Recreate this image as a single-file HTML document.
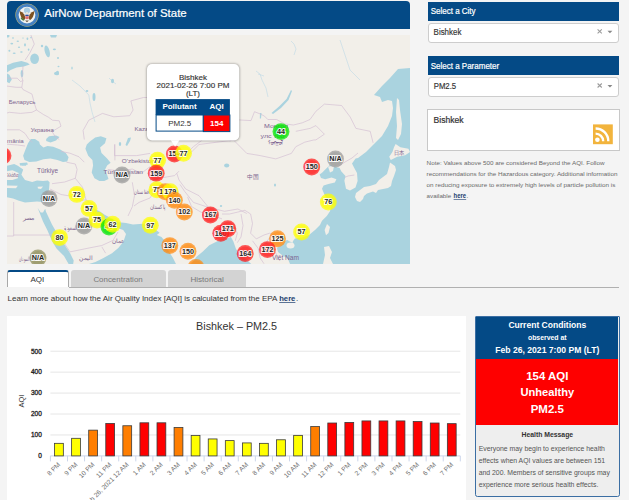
<!DOCTYPE html>
<html><head><meta charset="utf-8">
<style>
*{box-sizing:border-box;margin:0;padding:0}
html,body{width:629px;height:500px;overflow:hidden;background:#f4f4f4;font-family:"Liberation Sans",sans-serif;position:relative}
.abs{position:absolute}
svg text{font-family:"Liberation Sans",sans-serif}
</style></head><body>
<div class="abs" style="left:7px;top:1px;width:403px;height:27.5px;background:#044a86;border-radius:4px 4px 0 0"></div>
<div id="map" class="abs" style="left:7px;top:35px;width:403px;height:228.5px;background:#f2efe9;overflow:hidden"><svg class="abs" style="left:0;top:0" width="403" height="229" viewBox="7 35 403 229">
<rect x="7" y="35" width="403" height="229" fill="#f2efe9"/>
<polygon points="7.0,65.2 13.0,62.8 21.4,61.0 27.4,62.8 29.8,64.6 23.8,66.4 16.6,67.6 10.6,70.0 7.0,72.4" fill="#aad3df" />
<polygon points="7.0,73.6 9.4,74.8 11.8,79.6 9.4,83.2 7.0,82.0" fill="#aad3df" />
<ellipse cx="34.6" cy="58.8" rx="4.4" ry="5.2" fill="#aad3df"/>
<ellipse cx="47.2" cy="51.4" rx="2.4" ry="6" transform="rotate(-15 47.2 51.4)" fill="#aad3df"/>
<polygon points="50.0,35.0 57.0,35.0 56.0,37.6 51.0,37.6" fill="#aad3df" />
<ellipse cx="22" cy="73.6" rx="1.3" ry="3.6" fill="#aad3df"/>
<ellipse cx="7.5" cy="36" rx="2" ry="1.5" fill="#aad3df"/>
<ellipse cx="11.8" cy="43.6" rx="1.4" ry="0.9" fill="#aad3df"/>
<ellipse cx="17.8" cy="41.2" rx="1.2" ry="0.8" fill="#aad3df"/>
<ellipse cx="25" cy="44.8" rx="1" ry="1.6" fill="#aad3df"/>
<ellipse cx="27.4" cy="38.8" rx="0.9" ry="1.3" fill="#aad3df"/>
<ellipse cx="21.4" cy="52" rx="1.3" ry="0.8" fill="#aad3df"/>
<ellipse cx="14.2" cy="53.2" rx="1.5" ry="0.8" fill="#aad3df"/>
<ellipse cx="9.4" cy="50.8" rx="1" ry="1" fill="#aad3df"/>
<ellipse cx="28.6" cy="49.6" rx="0.8" ry="1.2" fill="#aad3df"/>
<ellipse cx="19" cy="47.2" rx="1.1" ry="0.7" fill="#aad3df"/>
<ellipse cx="31" cy="37.6" rx="0.8" ry="0.8" fill="#aad3df"/>
<ellipse cx="13" cy="38" rx="1" ry="0.7" fill="#aad3df"/>
<ellipse cx="23" cy="38" rx="0.8" ry="0.6" fill="#aad3df"/>
<ellipse cx="42" cy="46" rx="1.2" ry="1.2" fill="#aad3df"/>
<ellipse cx="54.4" cy="49.3" rx="1.6" ry="0.9" fill="#aad3df"/>
<ellipse cx="58" cy="58" rx="1" ry="1" fill="#aad3df"/>
<ellipse cx="58.5" cy="66.5" rx="1" ry="0.7" fill="#aad3df"/>
<ellipse cx="57.5" cy="73" rx="1.5" ry="2.2" fill="#aad3df"/>
<ellipse cx="72" cy="68" rx="0.7" ry="1.5" fill="#aad3df"/>
<ellipse cx="87" cy="91" rx="1.3" ry="1" fill="#aad3df"/>
<polygon points="28.0,143.2 25.2,150.2 23.1,155.8 24.5,160.0 29.4,162.1 36.4,161.4 43.4,159.3 50.4,158.6 57.4,160.0 63.0,162.1 67.2,161.4 68.6,157.2 65.8,153.0 60.2,149.5 53.2,146.7 47.6,146.0 43.4,147.4 39.9,144.6 39.2,141.8 35.0,139.0 30.8,139.0" fill="#aad3df" />
<polygon points="46.2,139.0 49.0,136.2 56.0,135.5 59.5,136.9 56.0,140.4 50.4,142.5 46.2,141.1" fill="#aad3df" />
<polygon points="21.0,163.0 27.0,162.5 28.0,164.5 22.0,165.5" fill="#aad3df" />
<polygon points="7.0,165.8 14.2,164.0 17.8,165.8 23.2,169.4 21.4,174.7 25.0,180.1 32.2,182.0 37.0,180.4 43.0,181.0 47.8,180.4 49.6,182.2 49.0,190.0 45.4,196.0 43.0,202.0 37.0,201.4 31.0,202.0 25.0,202.6 19.0,200.8 13.0,198.4 7.0,197.2" fill="#aad3df" />
<polygon points="19.6,163.0 26.8,163.5 26.0,165.8 20.0,165.5" fill="#aad3df" />
<polygon points="37.7,208.0 40.7,212.5 43.0,212.5 45.2,208.7 46.0,211.7 52.0,224.5 58.0,235.0 64.0,244.0 70.0,253.0 73.7,260.5 73.0,265.0 69.2,265.0 64.0,256.0 56.5,248.5 52.0,241.0 47.5,230.5 43.0,221.5" fill="#aad3df" />
<polygon points="89.6,141.8 95.2,137.6 100.8,136.2 106.4,138.3 105.0,143.2 100.1,147.4 101.5,153.0 107.1,158.6 110.6,162.8 107.1,165.6 105.0,169.8 107.1,174.7 108.5,178.9 104.3,181.0 99.4,181.0 94.5,178.2 91.7,172.6 93.1,165.6 92.4,160.0 88.2,155.8 85.4,148.8 86.8,144.6" fill="#aad3df" />
<polygon points="128.0,138.0 131.0,137.5 130.0,141.0 127.0,146.0 125.5,145.0" fill="#aad3df" />
<ellipse cx="120" cy="144" rx="1.2" ry="2" fill="#aad3df"/>
<polygon points="95.0,209.0 100.0,211.5 105.0,215.0 111.0,218.0 119.0,222.3 126.0,223.0 133.0,224.4 142.8,223.7 145.6,224.4 154.0,228.6 159.6,232.8 156.8,234.9 161.5,237.0 165.5,242.0 168.0,250.0 173.0,258.0 176.0,264.0 89.0,264.0 95.4,262.0 103.0,258.3 112.0,253.2 118.3,248.0 123.4,241.7 126.0,234.0 123.2,230.0 119.0,228.6 112.0,226.0 104.0,223.0 97.0,218.0 92.0,213.0" fill="#aad3df" />
<polygon points="191.0,264.0 196.5,256.7 202.9,251.6 209.3,245.3 214.3,242.7 219.4,240.2 230.9,237.0 233.4,241.5 236.0,249.0 239.8,254.2 247.4,260.5 251.2,264.0" fill="#aad3df" />
<polygon points="189.0,128.0 195.0,125.0 204.0,124.0 206.0,125.5 197.0,127.5 190.0,130.0" fill="#aad3df" />
<polygon points="291.0,90.0 292.0,91.0 288.5,100.0 281.0,108.0 273.0,114.0 271.5,113.0 279.0,106.5 286.5,99.0" fill="#aad3df" />
<polygon points="260.0,113.0 261.5,113.0 261.0,118.6 259.8,118.6" fill="#aad3df" />
<polygon points="410.0,68.0 398.0,69.0 390.0,78.0 382.0,86.0 374.0,95.0 380.0,97.0 382.0,102.0 388.0,100.0 392.0,101.0 393.0,108.0 392.0,116.0 388.0,126.0 382.0,136.0 374.0,144.0 366.0,152.0 358.0,158.0 355.6,158.4 352.0,163.5 354.0,167.5 357.0,173.0 357.6,181.0 355.5,187.5 350.0,190.6 346.0,188.8 344.4,180.8 345.5,176.0 341.2,171.2 339.6,168.0 334.8,166.4 330.0,164.8 326.8,168.0 322.0,172.8 319.6,174.4 321.0,178.0 325.2,179.2 331.6,177.6 336.4,179.2 334.8,182.4 328.4,184.0 323.6,185.6 322.0,188.8 324.4,194.4 328.0,200.0 331.0,206.0 330.0,211.2 326.8,216.0 322.0,220.8 320.0,225.0 315.0,230.0 309.0,235.0 302.0,237.5 295.0,238.5 293.0,241.0 292.5,243.0 290.0,241.5 287.0,240.0 284.0,242.0 281.0,245.0 277.0,248.0 278.0,252.0 282.0,255.0 288.0,259.0 290.0,264.0 410.0,264.0" fill="#aad3df" />
<polygon points="328.0,166.6 334.0,166.0 333.0,171.0 330.0,172.6" fill="#f2efe9" />
<polygon points="397.0,98.0 399.0,100.0 400.0,110.0 402.0,124.0 401.0,134.0 398.0,140.0 396.0,138.0 397.0,126.0 396.0,112.0" fill="#f2efe9" />
<polygon points="395.6,144.0 400.4,147.2 408.4,148.8 410.0,152.0 405.2,155.2 397.2,156.8 390.8,160.0 389.2,156.8 392.4,152.0 394.0,147.2" fill="#f2efe9" />
<polygon points="390.0,162.5 395.0,166.0 396.0,170.0 394.0,176.0 392.0,181.0 391.0,186.0 388.0,188.0 383.0,189.0 378.0,190.0 376.0,193.0 373.0,191.5 367.0,193.5 364.0,196.0 363.0,199.0 360.0,202.0 357.0,201.0 355.0,197.0 356.0,193.0 360.0,190.0 364.0,187.0 370.0,186.0 376.0,184.0 379.0,180.0 383.0,177.0 387.0,174.0 389.0,167.0" fill="#f2efe9" />
<polygon points="327.0,224.0 330.0,227.0 328.5,233.0 326.0,235.2 324.6,230.0" fill="#f2efe9" />
<polygon points="324.0,247.0 329.0,246.0 332.0,252.0 330.0,258.0 333.0,264.0 323.0,264.0 325.0,255.0" fill="#f2efe9" />
<ellipse cx="290.5" cy="245.6" rx="4" ry="3" fill="#f2efe9"/>
<polygon points="7.0,171.2 12.4,170.3 18.7,173.0 17.8,178.3 12.4,180.1 7.0,180.1" fill="#f2efe9" />
<polygon points="7.0,185.5 17.8,185.8 16.0,188.2 7.0,188.0" fill="#f2efe9" />
<polygon points="37.6,186.8 43.0,186.4 41.0,189.1 38.0,188.6" fill="#f2efe9" />
<polyline points="30.9,35.0 34.3,44.1 29.7,53.2 25.2,60.0" fill="none" stroke="#d2bcd2" stroke-width="0.65"/>
<polyline points="22.9,66.0 22.9,69.1 21.8,77.0 22.9,80.5 20.6,81.6 17.2,78.2 7.0,78.2" fill="none" stroke="#d2bcd2" stroke-width="0.65"/>
<polyline points="22.9,80.5 21.8,87.3 16.1,87.3 7.0,86.1" fill="none" stroke="#d2bcd2" stroke-width="0.65"/>
<polyline points="21.8,87.3 22.9,89.5 32.0,94.1 34.3,103.2 36.5,110.0 32.0,112.3 20.6,113.4 9.3,112.3 7.0,113.0" fill="none" stroke="#d2bcd2" stroke-width="0.65"/>
<polyline points="36.5,110.0 43.4,114.5 48.4,117.2 52.5,120.2 59.2,120.8 61.0,126.2 52.0,131.6 55.6,137.0 59.3,139.5" fill="none" stroke="#d2bcd2" stroke-width="0.65"/>
<polyline points="7.0,129.8 19.6,129.8 25.0,133.4 28.6,138.8 32.2,142.4" fill="none" stroke="#d2bcd2" stroke-width="0.65"/>
<polyline points="7.0,144.2 17.8,145.0 25.0,146.0" fill="none" stroke="#d2bcd2" stroke-width="0.65"/>
<polyline points="61.0,151.4 70.0,153.2 79.0,156.8 84.3,162.2" fill="none" stroke="#d2bcd2" stroke-width="0.65"/>
<polyline points="66.4,162.2 75.3,164.0 77.1,169.4 75.3,178.3 64.6,182.0 52.0,183.7" fill="none" stroke="#d2bcd2" stroke-width="0.65"/>
<polyline points="75.3,178.3 82.5,187.3 86.1,200.0" fill="none" stroke="#d2bcd2" stroke-width="0.65"/>
<polyline points="50.2,189.1 61.0,194.5 70.0,196.0 80.0,200.0 86.1,200.0 95.0,206.0" fill="none" stroke="#d2bcd2" stroke-width="0.65"/>
<polyline points="84.3,139.5 83.1,130.5 88.8,120.2 102.5,113.4 113.8,116.8 129.7,115.7 133.1,110.0 130.9,100.9 143.4,97.5 150.0,97.5" fill="none" stroke="#d2bcd2" stroke-width="0.65"/>
<polyline points="114.9,144.2 114.9,160.4" fill="none" stroke="#d2bcd2" stroke-width="0.65"/>
<polyline points="107.7,169.4 120.0,171.2 132.3,169.0 141.2,173.4 150.0,166.7" fill="none" stroke="#d2bcd2" stroke-width="0.65"/>
<polyline points="114.5,144.5 114.5,155.6 136.7,155.6 150.0,153.4" fill="none" stroke="#d2bcd2" stroke-width="0.65"/>
<polyline points="183.5,157.8 192.4,151.1 199.0,144.5 217.0,142.2 234.7,140.0" fill="none" stroke="#d2bcd2" stroke-width="0.65"/>
<polyline points="150.0,180.0 161.2,177.9 174.6,175.6 179.0,171.2" fill="none" stroke="#d2bcd2" stroke-width="0.65"/>
<polyline points="176.8,173.4 179.0,180.0 185.7,189.0 199.0,195.7 208.0,206.8" fill="none" stroke="#d2bcd2" stroke-width="0.65"/>
<polyline points="150.0,184.5 154.5,191.2 150.0,198.0 139.0,202.4 134.0,206.0" fill="none" stroke="#d2bcd2" stroke-width="0.65"/>
<polyline points="132.3,182.3 134.5,195.7 132.3,206.8 128.0,216.0" fill="none" stroke="#d2bcd2" stroke-width="0.65"/>
<polyline points="13.7,202.0 13.7,236.0 7.0,236.0" fill="none" stroke="#d2bcd2" stroke-width="0.65"/>
<polyline points="13.7,235.0 52.0,235.0" fill="none" stroke="#d2bcd2" stroke-width="0.65"/>
<polyline points="52.0,235.0 62.0,240.0 70.0,251.9 89.0,248.0 101.8,245.5 113.0,240.4 118.0,232.0" fill="none" stroke="#d2bcd2" stroke-width="0.65"/>
<polyline points="101.8,246.8 105.6,253.2" fill="none" stroke="#d2bcd2" stroke-width="0.65"/>
<polyline points="233.5,140.0 246.8,153.4 260.2,155.6 275.8,158.9 291.4,153.4 295.8,146.7 304.7,142.2 313.6,140.0 315.9,139.9 324.4,134.2 315.9,125.6 310.1,128.4 295.8,131.3" fill="none" stroke="#d2bcd2" stroke-width="0.65"/>
<polyline points="202.3,140.0 193.4,146.7 184.5,155.6" fill="none" stroke="#d2bcd2" stroke-width="0.65"/>
<polyline points="180.0,184.5 184.5,191.2 193.4,202.4 206.7,206.8 224.5,211.3 237.9,209.0 246.8,213.5" fill="none" stroke="#d2bcd2" stroke-width="0.65"/>
<polyline points="187.6,196.9 191.5,206.5 201.0,212.2 214.4,216.0 222.0,218.9" fill="none" stroke="#d2bcd2" stroke-width="0.65"/>
<polyline points="222.0,214.0 229.6,214.0 237.3,212.2 244.9,210.3 250.6,214.0 252.5,223.6 250.6,233.2 256.3,238.9 264.0,235.0 269.7,233.2 276.0,236.0 285.0,238.0" fill="none" stroke="#d2bcd2" stroke-width="0.65"/>
<polyline points="233.4,223.6 237.3,233.2 235.3,240.8" fill="none" stroke="#d2bcd2" stroke-width="0.65"/>
<polyline points="241.0,214.0 243.0,225.5 241.0,237.0 237.3,242.7" fill="none" stroke="#d2bcd2" stroke-width="0.65"/>
<polyline points="252.5,240.8 258.2,248.4 260.2,258.0 264.0,263.7" fill="none" stroke="#d2bcd2" stroke-width="0.65"/>
<polyline points="271.6,235.0 265.9,242.7 275.4,252.3 279.2,259.9" fill="none" stroke="#d2bcd2" stroke-width="0.65"/>
<polyline points="238.6,119.9 251.0,120.6 254.5,111.7 260.0,113.9 264.5,116.1 267.8,119.5 276.7,119.5 284.5,123.9 293.4,125.0 302.3,122.8 310.0,119.5 315.9,111.3 324.4,104.1 341.6,105.5 350.2,117.0 355.9,128.4 370.2,131.3 373.1,142.8" fill="none" stroke="#d2bcd2" stroke-width="0.65"/>
<polyline points="230.0,141.5 238.6,119.9" fill="none" stroke="#d2bcd2" stroke-width="0.65"/>
<polyline points="338.8,166.0 345.0,162.0 352.0,158.0 358.0,153.0" fill="none" stroke="#d2bcd2" stroke-width="0.65"/>
<polyline points="344.8,177.4 348.0,176.0 354.4,175.0" fill="none" stroke="#d2bcd2" stroke-width="0.65"/>
<polyline points="72.0,80.0 80.0,86.0 88.8,95.0 90.0,103.0 92.0,112.0 95.0,122.0" fill="none" stroke="#c5dde6" stroke-width="0.7"/>
<polyline points="109.0,78.0 112.0,81.0 116.0,84.0" fill="none" stroke="#c5dde6" stroke-width="0.7"/>
<polyline points="256.0,71.0 260.0,74.0 262.0,80.0 266.0,88.0 268.0,97.0" fill="none" stroke="#c5dde6" stroke-width="0.7"/>
<polyline points="258.0,74.0 264.0,76.0" fill="none" stroke="#c5dde6" stroke-width="0.7"/>
<polyline points="291.0,41.0 294.0,44.0 296.0,49.0 294.0,55.0" fill="none" stroke="#c5dde6" stroke-width="0.7"/>
<polyline points="340.0,40.0 345.0,55.0 350.0,70.0 360.0,80.0" fill="none" stroke="#c5dde6" stroke-width="0.7"/>
<ellipse cx="56.5" cy="73.5" rx="2.5" ry="1.8" fill="#aad3df"/>
<ellipse cx="94" cy="97" rx="1.5" ry="4" fill="#aad3df"/>
<ellipse cx="112.5" cy="81" rx="1.5" ry="2.2" fill="#aad3df"/>
<ellipse cx="226.7" cy="165.6" rx="2.6" ry="2" fill="#aad3df"/>
<ellipse cx="221" cy="206" rx="1.2" ry="1" fill="#aad3df"/>
<ellipse cx="275" cy="185" rx="1" ry="1.5" fill="#aad3df"/>
<text x="8.7" y="103.5" font-size="6.2" fill="#7d6590" textLength="26.8" lengthAdjust="spacingAndGlyphs">Беларусь</text>
<text x="30.8" y="131.8" font-size="6.2" fill="#7d6590" textLength="23" lengthAdjust="spacingAndGlyphs">Украина</text>
<text x="7" y="142.5" font-size="6.2" fill="#7d6590" textLength="16.8" lengthAdjust="spacingAndGlyphs">mânia</text>
<text x="37" y="173" font-size="6.4" fill="#7d6590" textLength="21" lengthAdjust="spacingAndGlyphs">Türkiye</text>
<text x="7" y="176.5" font-size="6.2" fill="#7d6590" textLength="11.4" lengthAdjust="spacingAndGlyphs">λλάδα</text>
<text x="22.7" y="219.5" font-size="6.2" fill="#7d6590" textLength="12" lengthAdjust="spacingAndGlyphs">مصر</text>
<text x="19" y="261" font-size="6.2" fill="#7d6590" textLength="10.5" lengthAdjust="spacingAndGlyphs">السودان</text>
<text x="79" y="260" font-size="6.2" fill="#7d6590" textLength="14" lengthAdjust="spacingAndGlyphs">اليمن</text>
<text x="112" y="242.5" font-size="6.2" fill="#7d6590" textLength="12.6" lengthAdjust="spacingAndGlyphs">عمان</text>
<text x="63.6" y="229.5" font-size="6" fill="#7d6590" textLength="14" lengthAdjust="spacingAndGlyphs">السعودية</text>
<text x="103.6" y="174" font-size="6.2" fill="#7d6590" textLength="39.4" lengthAdjust="spacingAndGlyphs">Türkmenistan</text>
<text x="121.8" y="163.3" font-size="6.2" fill="#7d6590" textLength="33" lengthAdjust="spacingAndGlyphs">O'zbekiston</text>
<text x="134.4" y="131.3" font-size="6.2" fill="#7d6590" textLength="32" lengthAdjust="spacingAndGlyphs">Kazakhstan</text>
<text x="134" y="194" font-size="6" fill="#7d6590" textLength="16" lengthAdjust="spacingAndGlyphs">افغانستان</text>
<text x="150" y="208.5" font-size="6" fill="#7d6590" textLength="16" lengthAdjust="spacingAndGlyphs">پاکستان</text>
<text x="247" y="179" font-size="6.2" fill="#7d6590" textLength="11.7" lengthAdjust="spacingAndGlyphs">中国</text>
<text x="264" y="128.2" font-size="6.2" fill="#7d6590" textLength="24" lengthAdjust="spacingAndGlyphs">Монгол</text>
<text x="260.5" y="137.7" font-size="6.2" fill="#7d6590" textLength="24" lengthAdjust="spacingAndGlyphs">улс тоо</text>
<text x="268" y="145" font-size="5.5" fill="#7d6590" textLength="15" lengthAdjust="spacingAndGlyphs">ᠮᠤᠩᠭᠤᠯ</text>
<text x="394" y="155.2" font-size="6.2" fill="#7d6590" textLength="10.4" lengthAdjust="spacingAndGlyphs">日本</text>
<text x="272" y="259.5" font-size="6.4" fill="#7d6590" textLength="27" lengthAdjust="spacingAndGlyphs">Việt Nam</text>
<circle cx="3" cy="155.7" r="8.45" fill="#ff1a1a" fill-opacity="0.72"/><circle cx="3" cy="155.7" r="7" fill="#ff1a1a" fill-opacity="0.4"/>
<circle cx="122" cy="175" r="8.45" fill="#9a9a9a" fill-opacity="0.72"/><circle cx="122" cy="175" r="7" fill="#9a9a9a" fill-opacity="0.4"/>
<text x="122" y="177.4" text-anchor="middle" font-size="7.2" font-weight="bold" fill="#262626" stroke="#fff" stroke-width="1.9" stroke-opacity="0.9" paint-order="stroke">N/A</text>
<circle cx="76.8" cy="194.4" r="8.45" fill="#ffff00" fill-opacity="0.72"/><circle cx="76.8" cy="194.4" r="7" fill="#ffff00" fill-opacity="0.4"/>
<text x="76.8" y="196.8" text-anchor="middle" font-size="7.2" font-weight="bold" fill="#262626" stroke="#fff" stroke-width="1.9" stroke-opacity="0.9" paint-order="stroke">72</text>
<circle cx="49" cy="198.6" r="8.45" fill="#9a9a9a" fill-opacity="0.72"/><circle cx="49" cy="198.6" r="7" fill="#9a9a9a" fill-opacity="0.4"/>
<text x="49" y="201.0" text-anchor="middle" font-size="7.2" font-weight="bold" fill="#262626" stroke="#fff" stroke-width="1.9" stroke-opacity="0.9" paint-order="stroke">N/A</text>
<circle cx="89" cy="208.4" r="8.45" fill="#ffff00" fill-opacity="0.72"/><circle cx="89" cy="208.4" r="7" fill="#ffff00" fill-opacity="0.4"/>
<text x="89" y="210.8" text-anchor="middle" font-size="7.2" font-weight="bold" fill="#262626" stroke="#fff" stroke-width="1.9" stroke-opacity="0.9" paint-order="stroke">57</text>
<circle cx="84" cy="226" r="8.45" fill="#9a9a9a" fill-opacity="0.72"/><circle cx="84" cy="226" r="7" fill="#9a9a9a" fill-opacity="0.4"/>
<text x="84" y="228.4" text-anchor="middle" font-size="7.2" font-weight="bold" fill="#262626" stroke="#fff" stroke-width="1.9" stroke-opacity="0.9" paint-order="stroke">N/A</text>
<circle cx="97" cy="220" r="8.45" fill="#ffff00" fill-opacity="0.72"/><circle cx="97" cy="220" r="7" fill="#ffff00" fill-opacity="0.4"/>
<text x="97" y="222.4" text-anchor="middle" font-size="7.2" font-weight="bold" fill="#262626" stroke="#fff" stroke-width="1.9" stroke-opacity="0.9" paint-order="stroke">75</text>
<circle cx="109" cy="227" r="8.45" fill="#00e400" fill-opacity="0.72"/><circle cx="109" cy="227" r="7" fill="#00e400" fill-opacity="0.4"/>
<text x="109" y="229.4" text-anchor="middle" font-size="7.2" font-weight="bold" fill="#262626" stroke="#fff" stroke-width="1.9" stroke-opacity="0.9" paint-order="stroke">40</text>
<circle cx="112.6" cy="224.2" r="8.45" fill="#ffff00" fill-opacity="0.72"/><circle cx="112.6" cy="224.2" r="7" fill="#ffff00" fill-opacity="0.4"/>
<text x="112.6" y="226.6" text-anchor="middle" font-size="7.2" font-weight="bold" fill="#262626" stroke="#fff" stroke-width="1.9" stroke-opacity="0.9" paint-order="stroke">62</text>
<circle cx="59.6" cy="237.6" r="8.45" fill="#ffff00" fill-opacity="0.72"/><circle cx="59.6" cy="237.6" r="7" fill="#ffff00" fill-opacity="0.4"/>
<text x="59.6" y="240.0" text-anchor="middle" font-size="7.2" font-weight="bold" fill="#262626" stroke="#fff" stroke-width="1.9" stroke-opacity="0.9" paint-order="stroke">80</text>
<circle cx="38" cy="258" r="8.45" fill="#8e8e5a" fill-opacity="0.72"/><circle cx="38" cy="258" r="7" fill="#8e8e5a" fill-opacity="0.4"/>
<text x="38" y="260.4" text-anchor="middle" font-size="7.2" font-weight="bold" fill="#262626" stroke="#fff" stroke-width="1.9" stroke-opacity="0.9" paint-order="stroke">N/A</text>
<circle cx="174.4" cy="154" r="8.45" fill="#ff1a1a" fill-opacity="0.72"/><circle cx="174.4" cy="154" r="7" fill="#ff1a1a" fill-opacity="0.4"/>
<text x="174.4" y="156.4" text-anchor="middle" font-size="7.2" font-weight="bold" fill="#262626" stroke="#fff" stroke-width="1.9" stroke-opacity="0.9" paint-order="stroke">154</text>
<circle cx="183.5" cy="153.3" r="8.45" fill="#ffff00" fill-opacity="0.72"/><circle cx="183.5" cy="153.3" r="7" fill="#ffff00" fill-opacity="0.4"/>
<text x="183.5" y="155.7" text-anchor="middle" font-size="7.2" font-weight="bold" fill="#262626" stroke="#fff" stroke-width="1.9" stroke-opacity="0.9" paint-order="stroke">77</text>
<circle cx="157.6" cy="160.3" r="8.45" fill="#ffff00" fill-opacity="0.72"/><circle cx="157.6" cy="160.3" r="7" fill="#ffff00" fill-opacity="0.4"/>
<text x="157.6" y="162.7" text-anchor="middle" font-size="7.2" font-weight="bold" fill="#262626" stroke="#fff" stroke-width="1.9" stroke-opacity="0.9" paint-order="stroke">77</text>
<circle cx="156.2" cy="173.2" r="8.45" fill="#ff1a1a" fill-opacity="0.72"/><circle cx="156.2" cy="173.2" r="7" fill="#ff1a1a" fill-opacity="0.4"/>
<text x="156.2" y="175.6" text-anchor="middle" font-size="7.2" font-weight="bold" fill="#262626" stroke="#fff" stroke-width="1.9" stroke-opacity="0.9" paint-order="stroke">159</text>
<circle cx="156.9" cy="189.7" r="8.45" fill="#ffff00" fill-opacity="0.72"/><circle cx="156.9" cy="189.7" r="7" fill="#ffff00" fill-opacity="0.4"/>
<text x="156.9" y="192.1" text-anchor="middle" font-size="7.2" font-weight="bold" fill="#262626" stroke="#fff" stroke-width="1.9" stroke-opacity="0.9" paint-order="stroke">75</text>
<circle cx="165.3" cy="191.8" r="8.45" fill="#ff8a10" fill-opacity="0.72"/><circle cx="165.3" cy="191.8" r="7" fill="#ff8a10" fill-opacity="0.4"/>
<text x="165.3" y="194.2" text-anchor="middle" font-size="7.2" font-weight="bold" fill="#262626" stroke="#fff" stroke-width="1.9" stroke-opacity="0.9" paint-order="stroke">173</text>
<circle cx="170.2" cy="191.8" r="8.45" fill="#ffff00" fill-opacity="0.72"/><circle cx="170.2" cy="191.8" r="7" fill="#ffff00" fill-opacity="0.4"/>
<text x="170.2" y="194.2" text-anchor="middle" font-size="7.2" font-weight="bold" fill="#262626" stroke="#fff" stroke-width="1.9" stroke-opacity="0.9" paint-order="stroke">179</text>
<circle cx="174.4" cy="200.2" r="8.45" fill="#ff8a10" fill-opacity="0.72"/><circle cx="174.4" cy="200.2" r="7" fill="#ff8a10" fill-opacity="0.4"/>
<text x="174.4" y="202.6" text-anchor="middle" font-size="7.2" font-weight="bold" fill="#262626" stroke="#fff" stroke-width="1.9" stroke-opacity="0.9" paint-order="stroke">140</text>
<circle cx="184.3" cy="212" r="8.45" fill="#ff8a10" fill-opacity="0.72"/><circle cx="184.3" cy="212" r="7" fill="#ff8a10" fill-opacity="0.4"/>
<text x="184.3" y="214.4" text-anchor="middle" font-size="7.2" font-weight="bold" fill="#262626" stroke="#fff" stroke-width="1.9" stroke-opacity="0.9" paint-order="stroke">102</text>
<circle cx="210.4" cy="215" r="8.45" fill="#ff1a1a" fill-opacity="0.72"/><circle cx="210.4" cy="215" r="7" fill="#ff1a1a" fill-opacity="0.4"/>
<text x="210.4" y="217.4" text-anchor="middle" font-size="7.2" font-weight="bold" fill="#262626" stroke="#fff" stroke-width="1.9" stroke-opacity="0.9" paint-order="stroke">167</text>
<circle cx="220.8" cy="233.2" r="8.45" fill="#ff1a1a" fill-opacity="0.72"/><circle cx="220.8" cy="233.2" r="7" fill="#ff1a1a" fill-opacity="0.4"/>
<text x="220.8" y="235.6" text-anchor="middle" font-size="7.2" font-weight="bold" fill="#262626" stroke="#fff" stroke-width="1.9" stroke-opacity="0.9" paint-order="stroke">160</text>
<circle cx="227.8" cy="228.8" r="8.45" fill="#ff1a1a" fill-opacity="0.72"/><circle cx="227.8" cy="228.8" r="7" fill="#ff1a1a" fill-opacity="0.4"/>
<text x="227.8" y="231.2" text-anchor="middle" font-size="7.2" font-weight="bold" fill="#262626" stroke="#fff" stroke-width="1.9" stroke-opacity="0.9" paint-order="stroke">171</text>
<circle cx="150.3" cy="225.3" r="8.45" fill="#ffff00" fill-opacity="0.72"/><circle cx="150.3" cy="225.3" r="7" fill="#ffff00" fill-opacity="0.4"/>
<text x="150.3" y="227.7" text-anchor="middle" font-size="7.2" font-weight="bold" fill="#262626" stroke="#fff" stroke-width="1.9" stroke-opacity="0.9" paint-order="stroke">97</text>
<circle cx="169.8" cy="245.6" r="8.45" fill="#ff8a10" fill-opacity="0.72"/><circle cx="169.8" cy="245.6" r="7" fill="#ff8a10" fill-opacity="0.4"/>
<text x="169.8" y="248.0" text-anchor="middle" font-size="7.2" font-weight="bold" fill="#262626" stroke="#fff" stroke-width="1.9" stroke-opacity="0.9" paint-order="stroke">137</text>
<circle cx="188" cy="251.2" r="8.45" fill="#ff8a10" fill-opacity="0.72"/><circle cx="188" cy="251.2" r="7" fill="#ff8a10" fill-opacity="0.4"/>
<text x="188" y="253.6" text-anchor="middle" font-size="7.2" font-weight="bold" fill="#262626" stroke="#fff" stroke-width="1.9" stroke-opacity="0.9" paint-order="stroke">150</text>
<circle cx="196" cy="267.5" r="8.45" fill="#ff8a10" fill-opacity="0.72"/><circle cx="196" cy="267.5" r="7" fill="#ff8a10" fill-opacity="0.4"/>
<text x="196" y="269.9" text-anchor="middle" font-size="7.2" font-weight="bold" fill="#262626" stroke="#fff" stroke-width="1.9" stroke-opacity="0.9" paint-order="stroke">1??</text>
<circle cx="245.2" cy="253.5" r="8.45" fill="#ff1a1a" fill-opacity="0.72"/><circle cx="245.2" cy="253.5" r="7" fill="#ff1a1a" fill-opacity="0.4"/>
<text x="245.2" y="255.9" text-anchor="middle" font-size="7.2" font-weight="bold" fill="#262626" stroke="#fff" stroke-width="1.9" stroke-opacity="0.9" paint-order="stroke">164</text>
<circle cx="281" cy="131.6" r="8.45" fill="#00e400" fill-opacity="0.72"/><circle cx="281" cy="131.6" r="7" fill="#00e400" fill-opacity="0.4"/>
<text x="281" y="134.0" text-anchor="middle" font-size="7.2" font-weight="bold" fill="#262626" stroke="#fff" stroke-width="1.9" stroke-opacity="0.9" paint-order="stroke">44</text>
<circle cx="311.7" cy="167" r="8.45" fill="#ff1a1a" fill-opacity="0.72"/><circle cx="311.7" cy="167" r="7" fill="#ff1a1a" fill-opacity="0.4"/>
<text x="311.7" y="169.4" text-anchor="middle" font-size="7.2" font-weight="bold" fill="#262626" stroke="#fff" stroke-width="1.9" stroke-opacity="0.9" paint-order="stroke">150</text>
<circle cx="335.5" cy="159" r="8.45" fill="#9a9a9a" fill-opacity="0.72"/><circle cx="335.5" cy="159" r="7" fill="#9a9a9a" fill-opacity="0.4"/>
<text x="335.5" y="161.4" text-anchor="middle" font-size="7.2" font-weight="bold" fill="#262626" stroke="#fff" stroke-width="1.9" stroke-opacity="0.9" paint-order="stroke">N/A</text>
<circle cx="328.3" cy="202" r="8.45" fill="#ffff00" fill-opacity="0.72"/><circle cx="328.3" cy="202" r="7" fill="#ffff00" fill-opacity="0.4"/>
<text x="328.3" y="204.4" text-anchor="middle" font-size="7.2" font-weight="bold" fill="#262626" stroke="#fff" stroke-width="1.9" stroke-opacity="0.9" paint-order="stroke">76</text>
<circle cx="301.6" cy="232" r="8.45" fill="#ffff00" fill-opacity="0.72"/><circle cx="301.6" cy="232" r="7" fill="#ffff00" fill-opacity="0.4"/>
<text x="301.6" y="234.4" text-anchor="middle" font-size="7.2" font-weight="bold" fill="#262626" stroke="#fff" stroke-width="1.9" stroke-opacity="0.9" paint-order="stroke">57</text>
<circle cx="277.5" cy="238.8" r="8.45" fill="#ff8a10" fill-opacity="0.72"/><circle cx="277.5" cy="238.8" r="7" fill="#ff8a10" fill-opacity="0.4"/>
<text x="277.5" y="241.2" text-anchor="middle" font-size="7.2" font-weight="bold" fill="#262626" stroke="#fff" stroke-width="1.9" stroke-opacity="0.9" paint-order="stroke">125</text>
<circle cx="267.4" cy="249.6" r="8.45" fill="#ff1a1a" fill-opacity="0.72"/><circle cx="267.4" cy="249.6" r="7" fill="#ff1a1a" fill-opacity="0.4"/>
<text x="267.4" y="252.0" text-anchor="middle" font-size="7.2" font-weight="bold" fill="#262626" stroke="#fff" stroke-width="1.9" stroke-opacity="0.9" paint-order="stroke">172</text>
<g>
<defs><filter id="sh" x="-20%" y="-20%" width="140%" height="140%"><feGaussianBlur stdDeviation="1.3"/></filter></defs>
<rect x="146.6" y="63.8" width="93" height="77.2" rx="5" fill="#000" fill-opacity="0.35" filter="url(#sh)"/>
<rect x="147" y="64.1" width="92.2" height="76.4" rx="5" fill="#fff"/>
<polygon points="170.8,140.3 179.4,140.3 175.1,146.8" fill="#fff"/>
<text x="193" y="79.6" text-anchor="middle" font-size="8" fill="#333" stroke="#333" stroke-width="0.15">Bishkek</text>
<text x="193" y="88.3" text-anchor="middle" font-size="8" fill="#333" stroke="#333" stroke-width="0.15">2021-02-26 7:00 PM</text>
<text x="193" y="96" text-anchor="middle" font-size="8" fill="#333" stroke="#333" stroke-width="0.15">(LT)</text>
<rect x="155.6" y="99.1" width="74.3" height="15.9" fill="#044a86"/>
<rect x="156.1" y="115" width="47.2" height="16.1" fill="#fff" stroke="#044a86" stroke-width="1"/>
<rect x="203.3" y="115" width="26.6" height="16.6" fill="#fe0000" stroke="#044a86" stroke-width="1"/>
<text x="179.5" y="109.3" text-anchor="middle" font-size="8" font-weight="bold" fill="#fff">Pollutant</text>
<text x="216.6" y="109.3" text-anchor="middle" font-size="8" font-weight="bold" fill="#fff">AQI</text>
<text x="179.7" y="125.5" text-anchor="middle" font-size="8" fill="#333">PM2.5</text>
<text x="216.8" y="125.5" text-anchor="middle" font-size="8" font-weight="bold" fill="#fff">154</text>
</g>
</svg></div>
<div class="abs" style="left:427.5px;top:1.5px;width:191.5px;height:19.8px;background:#044a86"></div>
<div class="abs" style="left:427.5px;top:22.5px;width:191.5px;height:20.8px;background:#fff;border:1px solid #cdcdcd;border-radius:3px"></div>
<div class="abs" style="left:427.5px;top:55.7px;width:191.5px;height:19.7px;background:#044a86"></div>
<div class="abs" style="left:427.5px;top:76.5px;width:191.5px;height:20.7px;background:#fff;border:1px solid #cdcdcd;border-radius:3px"></div>
<div class="abs" style="left:427.3px;top:109px;width:192.7px;height:41.6px;background:#fff;border:1px solid #c8c8c8"></div>
<div class="abs" style="left:7px;top:269.6px;width:62.2px;height:17.8px;background:#fff;border:1px solid #a8a8a8;border-top:2px solid #044a86;border-bottom:none;border-radius:3px 3px 0 0"></div>
<div class="abs" style="left:70.8px;top:269.6px;width:95.2px;height:17.6px;background:#d3d3d3;border-radius:3px 3px 0 0"></div>
<div class="abs" style="left:167.5px;top:269.6px;width:78.8px;height:17.6px;background:#d3d3d3;border-radius:3px 3px 0 0"></div>
<div class="abs" style="left:69.2px;top:286.7px;width:550.3px;height:1px;background:#b0b0b0"></div>
<div class="abs" style="left:7px;top:316px;width:459px;height:184px;background:#fff"></div>
<svg class="abs" style="left:0;top:0" width="629" height="500" viewBox="0 0 629 500">
<rect x="50.40" y="434.46" width="409.90" height="1" fill="#e6e6e6"/>
<rect x="50.40" y="413.52" width="409.90" height="1" fill="#e6e6e6"/>
<rect x="50.40" y="392.58" width="409.90" height="1" fill="#e6e6e6"/>
<rect x="50.40" y="371.64" width="409.90" height="1" fill="#e6e6e6"/>
<rect x="50.40" y="350.70" width="409.90" height="1" fill="#e6e6e6"/>
<rect x="50.40" y="455.40" width="409.90" height="1" fill="#ccd6eb"/>
<rect x="49.90" y="455.90" width="1" height="5.5" fill="#ccd6eb"/>
<rect x="66.98" y="455.90" width="1" height="5.5" fill="#ccd6eb"/>
<rect x="84.06" y="455.90" width="1" height="5.5" fill="#ccd6eb"/>
<rect x="101.14" y="455.90" width="1" height="5.5" fill="#ccd6eb"/>
<rect x="118.22" y="455.90" width="1" height="5.5" fill="#ccd6eb"/>
<rect x="135.30" y="455.90" width="1" height="5.5" fill="#ccd6eb"/>
<rect x="152.38" y="455.90" width="1" height="5.5" fill="#ccd6eb"/>
<rect x="169.45" y="455.90" width="1" height="5.5" fill="#ccd6eb"/>
<rect x="186.53" y="455.90" width="1" height="5.5" fill="#ccd6eb"/>
<rect x="203.61" y="455.90" width="1" height="5.5" fill="#ccd6eb"/>
<rect x="220.69" y="455.90" width="1" height="5.5" fill="#ccd6eb"/>
<rect x="237.77" y="455.90" width="1" height="5.5" fill="#ccd6eb"/>
<rect x="254.85" y="455.90" width="1" height="5.5" fill="#ccd6eb"/>
<rect x="271.93" y="455.90" width="1" height="5.5" fill="#ccd6eb"/>
<rect x="289.01" y="455.90" width="1" height="5.5" fill="#ccd6eb"/>
<rect x="306.09" y="455.90" width="1" height="5.5" fill="#ccd6eb"/>
<rect x="323.17" y="455.90" width="1" height="5.5" fill="#ccd6eb"/>
<rect x="340.25" y="455.90" width="1" height="5.5" fill="#ccd6eb"/>
<rect x="357.33" y="455.90" width="1" height="5.5" fill="#ccd6eb"/>
<rect x="374.40" y="455.90" width="1" height="5.5" fill="#ccd6eb"/>
<rect x="391.48" y="455.90" width="1" height="5.5" fill="#ccd6eb"/>
<rect x="408.56" y="455.90" width="1" height="5.5" fill="#ccd6eb"/>
<rect x="425.64" y="455.90" width="1" height="5.5" fill="#ccd6eb"/>
<rect x="442.72" y="455.90" width="1" height="5.5" fill="#ccd6eb"/>
<rect x="459.80" y="455.90" width="1" height="5.5" fill="#ccd6eb"/>
<text x="41.8" y="458.20" text-anchor="end" font-size="6.5" fill="#222" stroke="#222" stroke-width="0.3">0</text>
<text x="41.8" y="437.26" text-anchor="end" font-size="6.5" fill="#222" stroke="#222" stroke-width="0.3">100</text>
<text x="41.8" y="416.32" text-anchor="end" font-size="6.5" fill="#222" stroke="#222" stroke-width="0.3">200</text>
<text x="41.8" y="395.38" text-anchor="end" font-size="6.5" fill="#222" stroke="#222" stroke-width="0.3">300</text>
<text x="41.8" y="374.44" text-anchor="end" font-size="6.5" fill="#222" stroke="#222" stroke-width="0.3">400</text>
<text x="41.8" y="353.50" text-anchor="end" font-size="6.5" fill="#222" stroke="#222" stroke-width="0.3">500</text>
<rect x="54.54" y="443.34" width="8.80" height="12.56" fill="#ffff00" stroke="#3a3a3a" stroke-width="0.8"/>
<rect x="71.62" y="438.31" width="8.80" height="17.59" fill="#ffff00" stroke="#3a3a3a" stroke-width="0.8"/>
<rect x="88.70" y="430.14" width="8.80" height="25.76" fill="#ff7e00" stroke="#3a3a3a" stroke-width="0.8"/>
<rect x="105.78" y="423.44" width="8.80" height="32.46" fill="#ff0000" stroke="#3a3a3a" stroke-width="0.8"/>
<rect x="122.86" y="425.75" width="8.80" height="30.15" fill="#ff7e00" stroke="#3a3a3a" stroke-width="0.8"/>
<rect x="139.94" y="422.81" width="8.80" height="33.09" fill="#ff0000" stroke="#3a3a3a" stroke-width="0.8"/>
<rect x="157.01" y="422.81" width="8.80" height="33.09" fill="#ff0000" stroke="#3a3a3a" stroke-width="0.8"/>
<rect x="174.09" y="427.42" width="8.80" height="28.48" fill="#ff7e00" stroke="#3a3a3a" stroke-width="0.8"/>
<rect x="191.17" y="435.59" width="8.80" height="20.31" fill="#ffff00" stroke="#3a3a3a" stroke-width="0.8"/>
<rect x="208.25" y="438.94" width="8.80" height="16.96" fill="#ffff00" stroke="#3a3a3a" stroke-width="0.8"/>
<rect x="225.33" y="440.61" width="8.80" height="15.29" fill="#ffff00" stroke="#3a3a3a" stroke-width="0.8"/>
<rect x="242.41" y="442.92" width="8.80" height="12.98" fill="#ffff00" stroke="#3a3a3a" stroke-width="0.8"/>
<rect x="259.49" y="443.34" width="8.80" height="12.56" fill="#ffff00" stroke="#3a3a3a" stroke-width="0.8"/>
<rect x="276.57" y="439.78" width="8.80" height="16.12" fill="#ffff00" stroke="#3a3a3a" stroke-width="0.8"/>
<rect x="293.65" y="435.38" width="8.80" height="20.52" fill="#ffff00" stroke="#3a3a3a" stroke-width="0.8"/>
<rect x="310.73" y="426.58" width="8.80" height="29.32" fill="#ff7e00" stroke="#3a3a3a" stroke-width="0.8"/>
<rect x="327.81" y="423.02" width="8.80" height="32.88" fill="#ff0000" stroke="#3a3a3a" stroke-width="0.8"/>
<rect x="344.89" y="422.40" width="8.80" height="33.50" fill="#ff0000" stroke="#3a3a3a" stroke-width="0.8"/>
<rect x="361.96" y="420.93" width="8.80" height="34.97" fill="#ff0000" stroke="#3a3a3a" stroke-width="0.8"/>
<rect x="379.04" y="420.93" width="8.80" height="34.97" fill="#ff0000" stroke="#3a3a3a" stroke-width="0.8"/>
<rect x="396.12" y="420.93" width="8.80" height="34.97" fill="#ff0000" stroke="#3a3a3a" stroke-width="0.8"/>
<rect x="413.20" y="421.56" width="8.80" height="34.34" fill="#ff0000" stroke="#3a3a3a" stroke-width="0.8"/>
<rect x="430.28" y="423.02" width="8.80" height="32.88" fill="#ff0000" stroke="#3a3a3a" stroke-width="0.8"/>
<rect x="447.36" y="423.65" width="8.80" height="32.25" fill="#ff0000" stroke="#3a3a3a" stroke-width="0.8"/>
<text transform="translate(60.74,465.10) rotate(-45)" text-anchor="end" font-size="6.6" fill="#707070">8 PM</text>
<text transform="translate(77.82,465.10) rotate(-45)" text-anchor="end" font-size="6.6" fill="#707070">9 PM</text>
<text transform="translate(94.90,465.10) rotate(-45)" text-anchor="end" font-size="6.6" fill="#707070">10 PM</text>
<text transform="translate(111.98,465.10) rotate(-45)" text-anchor="end" font-size="6.6" fill="#707070">11 PM</text>
<text transform="translate(129.06,465.10) rotate(-45)" text-anchor="end" font-size="6.6" fill="#707070">Feb 26, 2021 12 AM</text>
<text transform="translate(146.14,465.10) rotate(-45)" text-anchor="end" font-size="6.6" fill="#707070">1 AM</text>
<text transform="translate(163.21,465.10) rotate(-45)" text-anchor="end" font-size="6.6" fill="#707070">2 AM</text>
<text transform="translate(180.29,465.10) rotate(-45)" text-anchor="end" font-size="6.6" fill="#707070">3 AM</text>
<text transform="translate(197.37,465.10) rotate(-45)" text-anchor="end" font-size="6.6" fill="#707070">4 AM</text>
<text transform="translate(214.45,465.10) rotate(-45)" text-anchor="end" font-size="6.6" fill="#707070">5 AM</text>
<text transform="translate(231.53,465.10) rotate(-45)" text-anchor="end" font-size="6.6" fill="#707070">6 AM</text>
<text transform="translate(248.61,465.10) rotate(-45)" text-anchor="end" font-size="6.6" fill="#707070">7 AM</text>
<text transform="translate(265.69,465.10) rotate(-45)" text-anchor="end" font-size="6.6" fill="#707070">8 AM</text>
<text transform="translate(282.77,465.10) rotate(-45)" text-anchor="end" font-size="6.6" fill="#707070">9 AM</text>
<text transform="translate(299.85,465.10) rotate(-45)" text-anchor="end" font-size="6.6" fill="#707070">10 AM</text>
<text transform="translate(316.93,465.10) rotate(-45)" text-anchor="end" font-size="6.6" fill="#707070">11 AM</text>
<text transform="translate(334.01,465.10) rotate(-45)" text-anchor="end" font-size="6.6" fill="#707070">12 PM</text>
<text transform="translate(351.09,465.10) rotate(-45)" text-anchor="end" font-size="6.6" fill="#707070">1 PM</text>
<text transform="translate(368.16,465.10) rotate(-45)" text-anchor="end" font-size="6.6" fill="#707070">2 PM</text>
<text transform="translate(385.24,465.10) rotate(-45)" text-anchor="end" font-size="6.6" fill="#707070">3 PM</text>
<text transform="translate(402.32,465.10) rotate(-45)" text-anchor="end" font-size="6.6" fill="#707070">4 PM</text>
<text transform="translate(419.40,465.10) rotate(-45)" text-anchor="end" font-size="6.6" fill="#707070">5 PM</text>
<text transform="translate(436.48,465.10) rotate(-45)" text-anchor="end" font-size="6.6" fill="#707070">6 PM</text>
<text transform="translate(453.56,465.10) rotate(-45)" text-anchor="end" font-size="6.6" fill="#707070">7 PM</text>
<text transform="translate(24.3,401.1) rotate(-90)" text-anchor="middle" font-size="7.4" fill="#333">AQI</text>
<text x="236.6" y="329.9" text-anchor="middle" font-size="10.8" fill="#333">Bishkek – PM2.5</text>
</svg>
<div class="abs" style="left:475px;top:316px;width:144.6px;height:180.6px;background:#eee;border:1.4px solid #3b6ea3;border-radius:1px 1px 2.5px 2.5px"></div>
<div class="abs" style="left:476.3px;top:317.3px;width:142px;height:41.5px;background:#044a86"></div>
<div class="abs" style="left:476.3px;top:358.8px;width:142px;height:66.3px;background:#fe0000"></div>
<svg class="abs" style="left:0;top:0" width="629" height="500" viewBox="0 0 629 500">
<g transform="translate(15.3,3.4)">
  <circle cx="11.7" cy="11.7" r="11.7" fill="#b3ad70"/>
  <circle cx="11.7" cy="11.7" r="11.1" fill="#4682c2"/>
  <circle cx="11.7" cy="11.7" r="8.4" fill="#f3f3f0"/>
  <circle cx="11.7" cy="7.2" r="3.1" fill="#a7cbe0"/>
  <path d="M4.2 7.6 Q7.2 8.2 9 11 L10.2 14.6 L8.8 16.8 Q5 14.6 4.2 7.6Z" fill="#7c5222"/>
  <path d="M19.2 7.6 Q16.2 8.2 14.4 11 L13.2 14.6 L14.6 16.8 Q18.4 14.6 19.2 7.6Z" fill="#7c5222"/>
  <circle cx="11.7" cy="10" r="1.3" fill="#e8e6d8"/>
  <rect x="10" y="11.3" width="3.4" height="1.5" fill="#2f4f9a"/>
  <path d="M10 12.8 h3.4 v2.2 q-1.7 1.6 -3.4 0z" fill="#e06e72"/>
  <path d="M5.8 14.2 Q6.8 16.4 8.8 16.6" stroke="#4b7f3a" stroke-width="1.4" fill="none"/>
  <path d="M9.8 17 L13.6 17 L11.7 18.8Z" fill="#6a5843"/>
 </g>
<text x="44.3" y="17.4" font-size="11.45" fill="#fff" textLength="142.4" lengthAdjust="spacingAndGlyphs" stroke="#fff" stroke-width="0.2">AirNow Department of State</text>
<text x="430.7" y="13.9" font-size="8.4" fill="#fff" textLength="44.9" lengthAdjust="spacingAndGlyphs" stroke="#fff" stroke-width="0.2">Select a City</text>
<text x="433.6" y="34.9" font-size="8.4" fill="#333" textLength="27.8" lengthAdjust="spacingAndGlyphs" stroke="#333" stroke-width="0.15">Bishkek</text>
<text x="430.7" y="68.9" font-size="8.4" fill="#fff" textLength="68.5" lengthAdjust="spacingAndGlyphs" stroke="#fff" stroke-width="0.2">Select a Parameter</text>
<text x="433.7" y="89.2" font-size="8.4" fill="#333" textLength="22.5" lengthAdjust="spacingAndGlyphs" stroke="#333" stroke-width="0.15">PM2.5</text>
<path d="M597.6 29.3 L601.8 33.3 M601.8 29.3 L597.6 33.3" stroke="#9a9a9a" stroke-width="1.05"/>
<path d="M607.5 30.7 L612.4 30.7 L609.95 33.2Z" fill="#888"/>
<path d="M597.6 83.5 L601.8 87.5 M601.8 83.5 L597.6 87.5" stroke="#9a9a9a" stroke-width="1.05"/>
<path d="M607.5 84.9 L612.4 84.9 L609.95 87.4Z" fill="#888"/>
<text x="433.6" y="123.1" font-size="8.3" fill="#333" textLength="30" lengthAdjust="spacingAndGlyphs" stroke="#333" stroke-width="0.2">Bishkek</text>
<g transform="translate(593,124.4)">
  <rect width="19.8" height="19.8" fill="#f2b43d"/>
  <circle cx="4.4" cy="15.4" r="2.3" fill="#fff"/>
  <path d="M2.6 9.2 A7.6 7.6 0 0 1 10.2 16.8" stroke="#fff" stroke-width="2.4" fill="none"/>
  <path d="M2.6 4.1 A12.7 12.7 0 0 1 15.3 16.8" stroke="#fff" stroke-width="2.4" fill="none"/>
 </g>
<text x="426.6" y="164.7" font-size="5.9" fill="#6a6a6a" textLength="178" lengthAdjust="spacingAndGlyphs" >Note: Values above 500 are considered Beyond the AQI. Follow</text>
<text x="426.6" y="175.7" font-size="5.9" fill="#6a6a6a" textLength="190.8" lengthAdjust="spacingAndGlyphs" >recommendations for the Hazardous category. Additional information</text>
<text x="426.6" y="186.7" font-size="5.9" fill="#6a6a6a" textLength="188.7" lengthAdjust="spacingAndGlyphs" >on reducing exposure to extremely high levels of particle pollution is</text>
<text x="426.6" y="198.1" font-size="5.9" fill="#6a6a6a" textLength="24.6" lengthAdjust="spacingAndGlyphs" >available</text><text x="453.6" y="198.1" font-size="6.3" fill="#1b3d6e" textLength="12.6" lengthAdjust="spacingAndGlyphs" font-weight="bold" >here</text><text x="466.6" y="198.1" font-size="6.3" fill="#6a6a6a" >.</text>
<rect x="453.6" y="199" width="12.6" height="0.6" fill="#1b3d6e"/>
<text x="30.5" y="282.1" font-size="8" fill="#333" textLength="13.8" lengthAdjust="spacingAndGlyphs" >AQI</text>
<text x="93.4" y="282.1" font-size="8" fill="#7a7a7a" textLength="49.3" lengthAdjust="spacingAndGlyphs" >Concentration</text>
<text x="190.4" y="282.1" font-size="8" fill="#7a7a7a" textLength="33.4" lengthAdjust="spacingAndGlyphs" >Historical</text>
<text x="7.6" y="301.3" font-size="8" fill="#333" >Learn more about how the Air Quality Index [AQI] is calculated from the EPA </text><text x="279.2" y="301.3" font-size="8" fill="#1b3d6e" textLength="16.2" lengthAdjust="spacingAndGlyphs" font-weight="bold" >here</text>
<rect x="279.2" y="302.3" width="16.2" height="0.7" fill="#1b3d6e"/>
<text x="296" y="301.3" font-size="8" fill="#333" >.</text>
<text x="547.3" y="328.2" font-size="8.6" fill="#fff" text-anchor="middle" textLength="77.8" lengthAdjust="spacingAndGlyphs" font-weight="bold" >Current Conditions</text>
<text x="547.3" y="340" font-size="6.9" fill="#fff" text-anchor="middle" textLength="38.7" lengthAdjust="spacingAndGlyphs" font-weight="bold" >observed at</text>
<text x="547.3" y="352.7" font-size="8.6" fill="#fff" text-anchor="middle" textLength="104" lengthAdjust="spacingAndGlyphs" font-weight="bold" >Feb 26, 2021 7:00 PM (LT)</text>
<text x="547.3" y="380.3" font-size="11.5" fill="#fff" text-anchor="middle" textLength="42.2" lengthAdjust="spacingAndGlyphs" font-weight="bold" >154 AQI</text>
<text x="547.3" y="396.2" font-size="11.3" fill="#fff" text-anchor="middle" textLength="53.8" lengthAdjust="spacingAndGlyphs" font-weight="bold" >Unhealthy</text>
<text x="547.3" y="413" font-size="11.5" fill="#fff" text-anchor="middle" font-weight="bold" >PM2.5</text>
<text x="547.3" y="437.1" font-size="6.9" fill="#333" text-anchor="middle" textLength="51.7" lengthAdjust="spacingAndGlyphs" font-weight="bold" >Health Message</text>
<text x="478.7" y="451.1" font-size="6.87" fill="#555" >Everyone may begin to experience health</text>
<text x="478.7" y="463.1" font-size="6.87" fill="#555" >effects when AQI values are between 151</text>
<text x="478.7" y="475.1" font-size="6.87" fill="#555" >and 200. Members of sensitive groups may</text>
<text x="478.7" y="486.9" font-size="6.87" fill="#555" >experience more serious health effects.</text>
</svg>
</body></html>
